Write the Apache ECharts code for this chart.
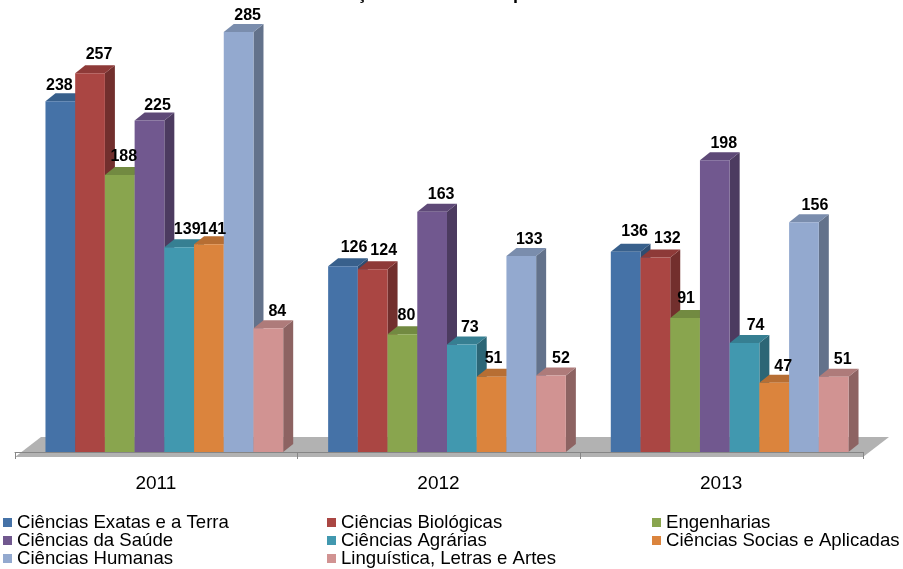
<!DOCTYPE html>
<html>
<head>
<meta charset="utf-8">
<style>
  html, body { margin: 0; padding: 0; background: #fff; overflow: hidden; }
  #chart { width: 903px; height: 569px; }
</style>
<script src="https://cdn.jsdelivr.net/npm/echarts@6/dist/echarts.min.js"></script>
</head>
<body>
<div id="chart"></div>
<script>
  const years = ['2011', '2012', '2013'];

  const exatas = [238, 126, 136];
  const biologicas = [257, 124, 132];
  const engenharias = [188, 80, 91];
  const saude = [225, 163, 198];
  const agrarias = [139, 73, 74];
  const sociais = [141, 51, 47];
  const humanas = [285, 133, 156];
  const letras = [84, 52, 51];

  const names = [
    'Ciências Exatas e a Terra', 'Ciências Biológicas', 'Engenharias',
    'Ciências da Saúde', 'Ciências Agrárias', 'Ciências Socias e Aplicadas',
    'Ciências Humanas', 'Linguística, Letras e Artes'
  ];
  const values = [exatas, biologicas, engenharias, saude, agrarias, sociais, humanas, letras];

  const colors = ['#4572A7', '#AA4643', '#89A54E', '#71588F', '#4198AF', '#DB843D', '#93A9CF', '#D19392'];
  const sideColors = ['#2F4D71', '#722F2D', '#5C6F35', '#4C3B60', '#2C6676', '#935929', '#63728B', '#8D6362'];
  const topColors = ['#38608C', '#8E3A38', '#728A41', '#5E4977', '#367F92', '#B76E33', '#7A8DAD', '#AE7B7A'];

  const depthX = 10, depthY = 8;
  const barShare = 29.75 / 283;

  // the labels were moved by hand in the original, [dx, dy] per series and year
  const labelNudge = [
    [[-10, 1], [2, -2], [0, -3]],
    [[0, -2], [2, -2], [3, -2]],
    [[-5, -1], [-5, -2], [-8, -2]],
    [[-1, 2], [0, 0], [0, 0]],
    [[-1, -1], [-1, 0], [2, 0]],
    [[-5, 2], [-7, -1], [0, 1]],
    [[0, 0], [-1, 1], [2, 0]],
    [[0, 0], [1, 0], [0, 0]]
  ];

  function renderBar(i) {
    return function (params, api) {
      const base = api.coord([api.value(0), 0]);
      const top = api.coord([api.value(0), api.value(1)]);
      const band = api.size([1, 0])[0];
      const w = band * barShare;
      const x0 = base[0] + 8 + (i - 4) * w;
      const x1 = x0 + w;
      const nudge = labelNudge[i][api.value(0)];
      return {
        type: 'group',
        children: [
          {
            type: 'polygon', z2: i,
            shape: { points: [[x1, top[1]], [x1 + depthX, top[1] - depthY], [x1 + depthX, base[1] - depthY], [x1, base[1]]] },
            style: { fill: sideColors[i] }
          },
          {
            type: 'polygon', z2: i,
            shape: { points: [[x0, top[1]], [x0 + depthX, top[1] - depthY], [x1 + depthX, top[1] - depthY], [x1, top[1]]] },
            style: { fill: topColors[i] }
          },
          {
            type: 'rect', z2: i,
            shape: { x: x0, y: top[1], width: w, height: base[1] - top[1] },
            style: { fill: colors[i] }
          },
          {
            type: 'text', z2: 100,
            style: {
              text: String(api.value(1)),
              x: x0 + w / 2 + 9 + nudge[0], y: top[1] - 17 + nudge[1],
              align: 'center', verticalAlign: 'middle',
              font: 'bold 16px "Liberation Sans"', fill: '#000'
            }
          }
        ]
      };
    };
  }

  function renderFloor(params, api) {
    const left = api.coord([0, 0]);
    const band = api.size([1, 0])[0];
    const x0 = left[0] - band / 2;
    const x1 = x0 + band * 3;
    const y = left[1];
    return {
      type: 'polygon', z2: -1,
      shape: { points: [[x0, y + 5], [x0 + 26, y - 15], [x1 + 26, y - 15], [x1, y + 5]] },
      style: { fill: '#B2B2B2' }
    };
  }

  const series = [{
    type: 'custom', silent: true, z: 1,
    renderItem: renderFloor,
    data: [[0, 0]]
  }].concat(names.map(function (name, i) {
    return {
      name: name,
      type: 'custom',
      z: 2,
      clip: false,
      renderItem: renderBar(i),
      itemStyle: { color: colors[i] },
      encode: { x: 0, y: 1 },
      data: values[i].map(function (v, k) { return [k, v]; })
    };
  }));

  function legendColumn(data, left) {
    return {
      data: data, left: left, top: 513, height: 80, orient: 'vertical',
      icon: 'rect', itemWidth: 9, itemHeight: 9, itemGap: -1,
      padding: 0, selectedMode: false,
      textStyle: { fontFamily: 'Liberation Sans', fontSize: 18.6, color: '#000', padding: [0, 0, 0, 0], lineHeight: 18 }
    };
  }

  // the title is cut off by the top edge, only these two descenders can be read
  function titleScrap(text, x) {
    return {
      type: 'text', left: x, top: -15,
      style: { text: text, font: 'bold 18px "Liberation Sans"', fill: '#000' }
    };
  }

  const chart = echarts.init(document.getElementById('chart'));
  chart.setOption({
    animation: false,
    backgroundColor: '#fff',
    grid: { left: 15, right: 40, top: 10, bottom: 117 },
    legend: [
      legendColumn([names[0], names[3], names[6]], 3),
      legendColumn([names[1], names[4], names[7]], 327),
      legendColumn([names[2], names[5]], 652)
    ],
    graphic: [titleScrap('ç', 357), titleScrap('p', 513)],
    xAxis: {
      type: 'category',
      data: years,
      offset: 5,
      z: 3,
      axisLine: { lineStyle: { color: '#868686', width: 1 } },
      axisTick: { show: true, alignWithLabel: false, length: 7, lineStyle: { color: '#868686' } },
      axisLabel: { color: '#000', fontFamily: 'Liberation Sans', fontSize: 19, margin: 17, padding: [0, 1, 0, 0] }
    },
    yAxis: { type: 'value', min: 0, max: 300, show: false },
    series: series
  });
</script>
</body>
</html>
